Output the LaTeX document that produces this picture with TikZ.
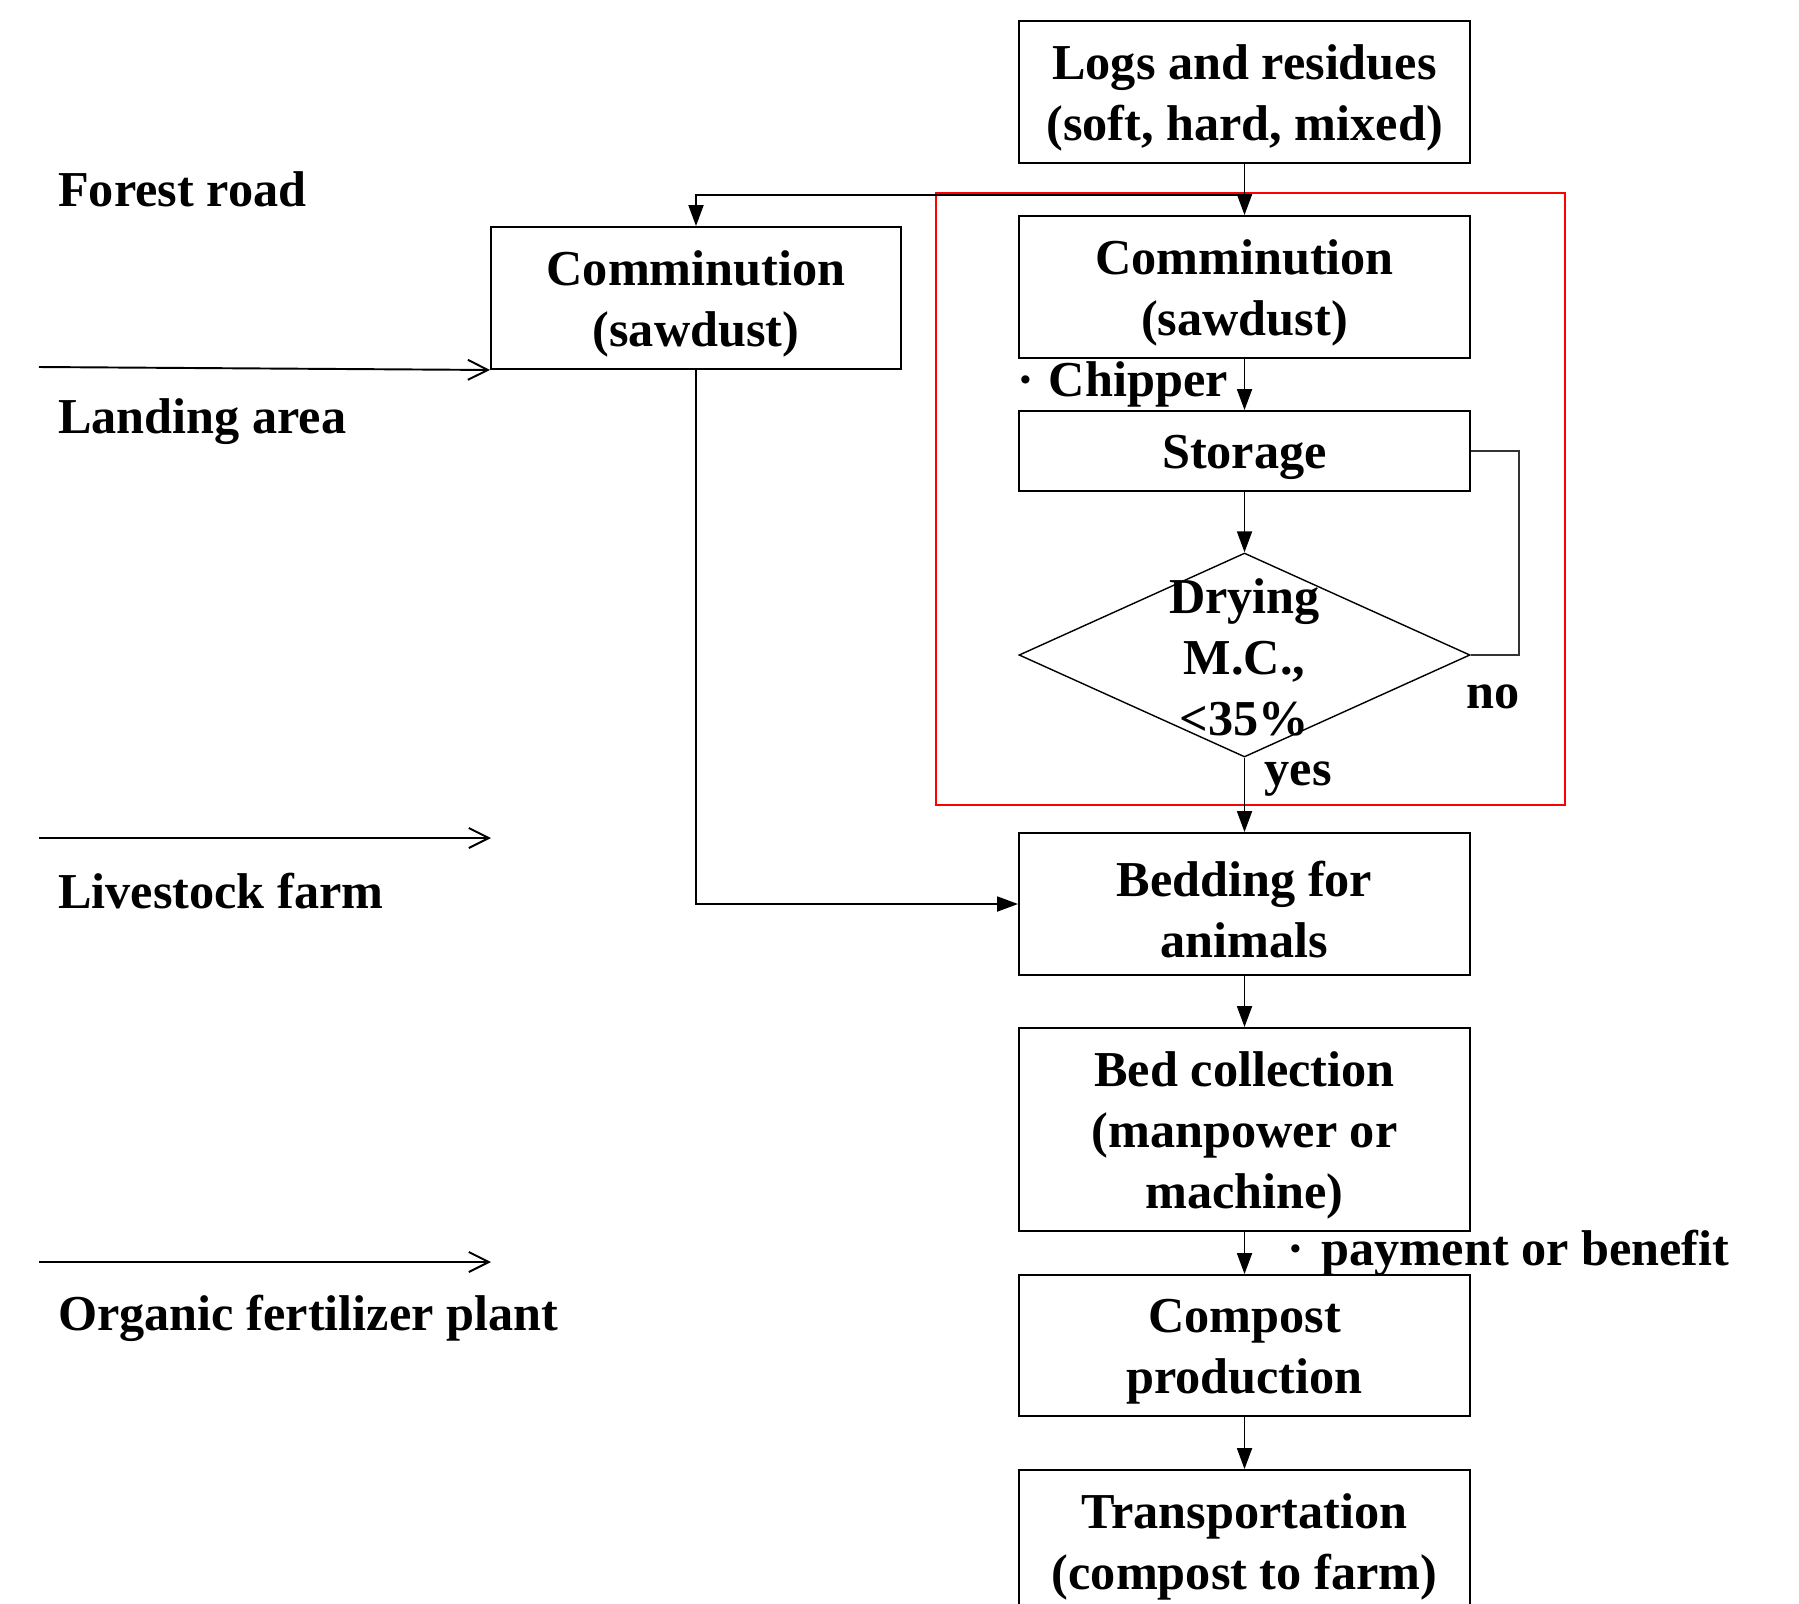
\documentclass[tikz,border=0pt]{standalone}
\usepackage{fontspec}
\setmainfont{Liberation Serif}
\usetikzlibrary{shapes.geometric,arrows.meta,positioning}

\begin{document}
\begin{tikzpicture}[
  font=\fontsize{28.6}{34.7}\selectfont\bfseries,
  box/.style={draw, line width=1.1pt, minimum width=9.02cm, minimum height=2.84cm, inner sep=0pt,
    label={[align=center, inner sep=0pt, yshift=-0.12cm]center:#1}},
  decision/.style={draw, diamond, line width=0.8pt, minimum width=9.02cm, minimum height=4.08cm, inner sep=0pt},
  flow/.style={line width=1.1pt, -{Triangle[length=0.42cm,width=0.3cm]}},
  zone/.style={line width=1.1pt, -{Straight Barb[length=0.4cm,width=0.4cm]}}]
\useasboundingbox (0,0) rectangle (35.98,-32.06);

% places on the left
\node[anchor=west] (road) at (1.04,-3.78) {Forest road};
\node[anchor=west] (landing) at (1.04,-8.43) {Landing area};
\node[anchor=west] (farm) at (1.04,-17.82) {Livestock farm};
\node[anchor=west] (plant) at (1.04,-26.37) {Organic fertilizer plant};

% main flow
\node[box={Logs and residues\\(soft, hard, mixed)}] (logs) at (24.89,-1.84) {};
\node[box={Comminution\\(sawdust)}] (comm) at (24.89,-5.74) {};
\node[box={Storage}, minimum height=1.6cm] (store) at (24.89,-9.02) {};
\node[decision] (dry) at (24.89,-13.1) {};
\node[align=center] (drytext) at ([yshift=-0.05cm]dry.center) {Drying\\M.C.,\\<35\%};
\node[box={Bedding for\\animals}] (bed) at (24.89,-18.08) {};
\node[box={Bed collection\\(manpower or\\machine)}, minimum height=4.06cm] (collect) at (24.89,-22.59) {};
\node[box={Compost\\production}, minimum height=2.82cm] (compost) at (24.89,-26.91) {};
\node[box={Transportation\\(compost to farm)}] (trans) at (24.89,-30.82) {};
\node[box={Comminution\\(sawdust)}, minimum width=8.2cm] (lcomm) at (13.92,-5.96) {};

\node (no) at (29.86,-13.94) {no};

% drying step
\draw[red, line width=1.1pt] (18.72,-3.86) rectangle (31.3,-16.1);

\coordinate (split) at (24.89,-3.9);
\draw[line width=1.1pt] (logs) -- (split);
\draw[flow] (split) -- (comm);
\draw[flow] (split) -| (lcomm);
\draw[flow] (comm) -- (store) node[midway, left=0.2cm] {·\hspace{0.3em}Chipper};
\draw[flow] (store) -- (dry);
\draw[line width=0.8pt, black!80] (store.east) -- ++(0.96,0) |- (dry.east);
\draw[flow] (dry) -- (bed) node[pos=0.29, right=0.27cm] {yes};
\draw[flow] (lcomm) |- (bed);
\draw[flow] (bed) -- (collect);
\draw[flow] (collect) -- (compost) node[midway, right=0.72cm] {·\hspace{0.35em}payment or benefit};
\draw[flow] (compost) -- (trans);

% borders between places
\coordinate (b1) at (0.78,-7.34);
\coordinate (b2) at (0.78,-16.76);
\coordinate (b2e) at (9.82,-16.76);
\coordinate (b3) at (0.78,-25.24);
\coordinate (b3e) at (9.82,-25.24);
\draw[zone] (b1) -- (lcomm.south west);
\draw[zone] (b2) -- (b2e);
\draw[zone] (b3) -- (b3e);
\end{tikzpicture}
\end{document}
